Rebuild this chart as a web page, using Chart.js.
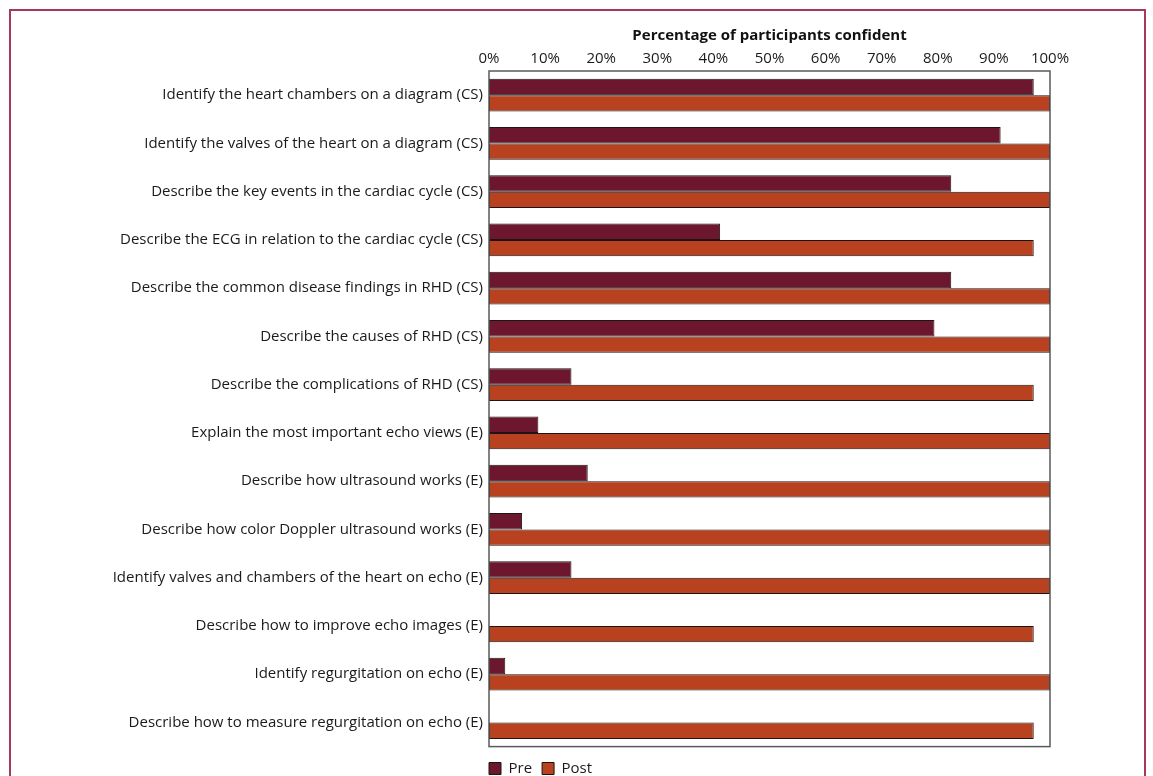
<!DOCTYPE html>
<html>
<head>
<meta charset="utf-8">
<script src="https://cdn.jsdelivr.net/npm/chart.js@4.4.1/dist/chart.umd.min.js"></script>
<style>
  html, body { margin: 0; padding: 0; background: #fff; overflow: hidden; }
  #frame {
    position: absolute; left: 9px; top: 9px; width: 1133px; height: 800px;
    border: 2px solid #a33a5a; border-bottom: none;
  }
  #wrap { position: absolute; left: 0; top: 0; width: 1153px; height: 786px; }
</style>
</head>
<body>
<div id="frame"></div>
<div id="wrap"><canvas id="confChart"></canvas></div>
<script>
// Categorias (itens avaliados)
const categories = [
  "Identify the heart chambers on a diagram (CS)",
  "Identify the valves of the heart on a diagram (CS)",
  "Describe the key events in the cardiac cycle (CS)",
  "Describe the ECG in relation to the cardiac cycle (CS)",
  "Describe the common disease findings in RHD (CS)",
  "Describe the causes of RHD (CS)",
  "Describe the complications of RHD (CS)",
  "Explain the most important echo views (E)",
  "Describe how ultrasound works (E)",
  "Describe how color Doppler ultrasound works (E)",
  "Identify valves and chambers of the heart on echo (E)",
  "Describe how to improve echo images (E)",
  "Identify regurgitation on echo (E)",
  "Describe how to measure regurgitation on echo (E)"
]

// % confiantes (n = 34)
const preValues = [97.1, 91.2, 82.4, 41.2, 82.4, 79.4, 14.7, 8.8, 17.6, 5.9, 14.7, 0, 2.9, 0]
const postValues = [100, 100, 100, 97.1, 100, 100, 97.1, 100, 100, 100, 100, 97.1, 100, 97.1]

const xTicks = [0, 10, 20, 30, 40, 50, 60, 70, 80, 90, 100]

const font = "'Open Sans', 'DejaVu Sans', sans-serif"
const legendPad = 10

// moldura da área do gráfico + legenda alinhada à esquerda do eixo
const plotFrame = {
  id: "plotFrame",
  afterLayout(chart) {
    chart.legend.left -= legendPad
    chart.legend.right -= legendPad
  },
  afterDraw(chart) {
    const a = chart.chartArea
    const c = chart.ctx
    c.save()
    c.strokeStyle = "#5a5a5a"
    c.lineWidth = 1.5
    c.strokeRect(a.left, a.top, a.right - a.left, a.bottom - a.top)
    c.restore()
  },
}

const ctx = document.getElementById("confChart")
new Chart(ctx, {
  type: "bar",
  data: {
    labels: categories,
    datasets: [
      {
        label: "Pre",
        data: preValues,
        backgroundColor: "#6d172e",
        borderColor: "#1e1414",
        borderWidth: 1,
        borderSkipped: false,
        categoryPercentage: 0.68,
        barPercentage: 1.0,
      },
      {
        label: "Post",
        data: postValues,
        backgroundColor: "#b8411f",
        borderColor: "#1e1414",
        borderWidth: 1,
        borderSkipped: false,
        categoryPercentage: 0.68,
        barPercentage: 1.0,
      },
    ],
  },
  options: {
    indexAxis: "y",
    responsive: true,
    maintainAspectRatio: false,
    animation: false,
    layout: { padding: { top: 27, right: 103, bottom: 0, left: 0 } },
    plugins: {
      tooltip: { enabled: false },
      legend: {
        position: "bottom",
        align: "start",
        fullSize: false,
        title: {
          display: true,
          text: " ",
          font: { size: 2 },
          padding: { top: 2, bottom: 0 },
        },
        labels: {
          boxWidth: 12,
          boxHeight: 12,
          color: "#1a1a1a",
          font: { family: font, size: 15 },
          padding: legendPad,
        },
      },
    },
    scales: {
      x: {
        position: "top",
        min: 0,
        max: 100,
        afterBuildTicks: (scale) => {
          scale.ticks = xTicks.map((v) => ({ value: v }))
        },
        grid: { display: false, drawTicks: false },
        border: { display: false },
        ticks: {
          color: "#1a1a1a",
          font: { family: font, size: 15 },
          padding: 3,
          maxRotation: 0,
          callback: (value) => value + "%",
        },
        title: {
          display: true,
          text: "Percentage of participants confident",
          color: "#111",
          font: { family: font, size: 15, weight: "bold" },
          padding: { top: 0, bottom: 2 },
        },
      },
      y: {
        grid: { display: false, drawTicks: false },
        border: { display: false },
        afterFit: (scale) => {
          scale.width = 489
        },
        ticks: {
          color: "#1a1a1a",
          font: { family: font, size: 15 },
          padding: 6,
        },
      },
    },
  },
  plugins: [plotFrame],
})
</script>
</body>
</html>
